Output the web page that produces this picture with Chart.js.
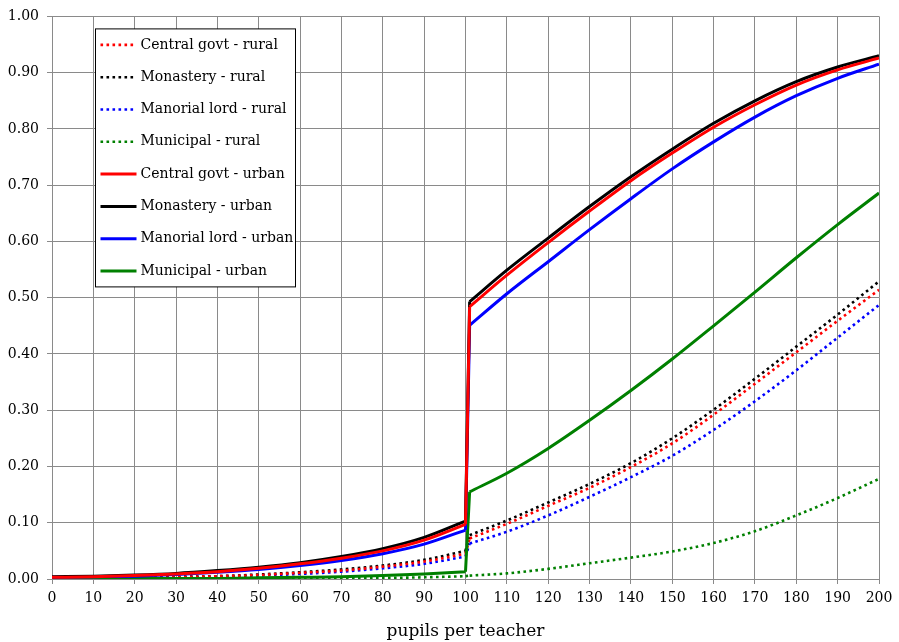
<!DOCTYPE html>
<html>
<head>
<meta charset="utf-8">
<script src="https://cdn.jsdelivr.net/npm/chart.js@4/dist/chart.umd.min.js"></script>
<style>
  html, body { margin: 0; padding: 0; background: #fff; }
  #wrap { width: 899px; height: 642px; }
</style>
</head>
<body>
<div id="wrap"><canvas id="chart" width="899" height="642"></canvas></div>
<script>
// x positions (pupils per teacher) where values were read; curves jump between 100 and 101
const pupils = [0, 10, 20, 30, 40, 50, 60, 70, 80, 90, 100, 101,
                110, 120, 130, 140, 150, 160, 170, 180, 190, 200];
const jumpAfter = 100;

const centralRural   = [0.001, 0.001, 0.002, 0.003, 0.005, 0.007, 0.011, 0.015, 0.022, 0.031, 0.045, 0.072,
                        0.098, 0.130, 0.162, 0.199, 0.241, 0.292, 0.347, 0.403, 0.459, 0.514];
const monasteryRural = [0.001, 0.001, 0.002, 0.004, 0.005, 0.008, 0.012, 0.017, 0.024, 0.034, 0.050, 0.078,
                        0.104, 0.136, 0.169, 0.206, 0.250, 0.301, 0.356, 0.413, 0.470, 0.529];
const manorialRural  = [0.001, 0.001, 0.002, 0.003, 0.004, 0.006, 0.009, 0.013, 0.019, 0.027, 0.040, 0.063,
                        0.084, 0.113, 0.146, 0.181, 0.219, 0.265, 0.316, 0.371, 0.429, 0.487];
const municipalRural = [0.000, 0.000, 0.000, 0.000, 0.000, 0.001, 0.001, 0.002, 0.002, 0.003, 0.005, 0.006,
                        0.010, 0.018, 0.028, 0.038, 0.049, 0.064, 0.085, 0.113, 0.144, 0.178];

const centralUrban   = [0.003, 0.004, 0.006, 0.009, 0.013, 0.019, 0.027, 0.037, 0.050, 0.069, 0.097, 0.484,
                        0.540, 0.598, 0.654, 0.708, 0.757, 0.803, 0.843, 0.878, 0.905, 0.926];
const monasteryUrban = [0.004, 0.005, 0.007, 0.010, 0.015, 0.021, 0.029, 0.040, 0.054, 0.074, 0.103, 0.493,
                        0.549, 0.606, 0.662, 0.715, 0.764, 0.810, 0.850, 0.884, 0.910, 0.930];
const manorialUrban  = [0.003, 0.004, 0.005, 0.008, 0.012, 0.017, 0.024, 0.033, 0.045, 0.062, 0.087, 0.451,
                        0.507, 0.564, 0.621, 0.676, 0.729, 0.777, 0.821, 0.859, 0.890, 0.915];
const municipalUrban = [0.000, 0.000, 0.001, 0.001, 0.001, 0.002, 0.003, 0.004, 0.006, 0.009, 0.013, 0.155,
                        0.188, 0.232, 0.282, 0.335, 0.391, 0.450, 0.510, 0.571, 0.630, 0.686];

const seriesLabels = [
  'Central govt - rural', 'Monastery - rural', 'Manorial lord - rural', 'Municipal - rural',
  'Central govt - urban', 'Monastery - urban', 'Manorial lord - urban', 'Municipal - urban'
];
const seriesValues = [
  centralRural, monasteryRural, manorialRural, municipalRural,
  centralUrban, monasteryUrban, manorialUrban, municipalUrban
];

const xTicks = [0, 200, 10];     // min, max, step
const yTicks = [0, 1, 0.1];

const FONT = "'DejaVu Serif', serif";
const GRID = '#8a8a8a';
const COLORS = ['#ff0000', '#000000', '#0000ff', '#008000'];

// split at the jump (null markers) so the smooth curve doesn't bend around the step
function buildPoints(ys) {
  const pts = [];
  const j = pupils.indexOf(jumpAfter);
  pupils.forEach((x, k) => {
    pts.push({ x, y: ys[k] });
    if (k === j) {
      pts.push({ x, y: null });
      pts.push({ x, y: ys[k] });
    }
    if (k === j + 1) {
      pts.push({ x, y: null });
      pts.push({ x, y: ys[k] });
    }
  });
  return pts;
}

const datasets = seriesLabels.map((label, i) => {
  const rural = i < 4;
  return {
    label,
    data: buildPoints(seriesValues[i]),
    borderColor: COLORS[i % 4],
    backgroundColor: COLORS[i % 4],
    borderWidth: rural ? 2.6 : 3,
    borderDash: rural ? [2.6, 3.4] : [],
    borderJoinStyle: 'round',
    pointRadius: 0,
    fill: false,
    cubicInterpolationMode: 'monotone',
    spanGaps: false,
    order: rural ? 2 : 1,
  };
});

// legend drawn as a framed box inside the plot area
const boxLegend = {
  id: 'boxLegend',
  afterDatasetsDraw(chart) {
    const { ctx, chartArea } = chart;
    const left = chartArea.left + 43.5, top = chartArea.top + 12.5;
    const w = 200, h = 258, rowH = 32.3;
    ctx.save();
    ctx.fillStyle = '#fff';
    ctx.fillRect(left, top, w, h);
    ctx.strokeStyle = '#000';
    ctx.lineWidth = 1;
    ctx.strokeRect(left, top, w, h);
    ctx.font = '14px ' + FONT;
    ctx.textBaseline = 'middle';
    chart.data.datasets.forEach((ds, i) => {
      const y = top + 16 + i * rowH;
      ctx.beginPath();
      ctx.strokeStyle = ds.borderColor;
      ctx.lineWidth = ds.borderWidth;
      ctx.setLineDash(ds.borderDash);
      ctx.moveTo(left + 5, y);
      ctx.lineTo(left + 41, y);
      ctx.stroke();
      ctx.setLineDash([]);
      ctx.fillStyle = '#000';
      ctx.fillText(ds.label, left + 45, y);
    });
    ctx.restore();
  }
};

new Chart(document.getElementById('chart'), {
  type: 'line',
  data: { datasets },
  plugins: [boxLegend],
  options: {
    responsive: false,
    animation: false,
    layout: { padding: { top: 12, right: 20, left: 0, bottom: 0 } },
    plugins: {
      legend: { display: false },
      tooltip: { enabled: false },
    },
    scales: {
      x: {
        type: 'linear',
        min: xTicks[0], max: xTicks[1],
        ticks: {
          stepSize: xTicks[2],
          font: { family: FONT, size: 14 },
          color: '#000',
          padding: 6,
          maxRotation: 0,
        },
        grid: { color: GRID, tickLength: 5, tickColor: GRID },
        border: { color: GRID },
        title: {
          display: true,
          text: 'pupils per teacher',
          font: { family: FONT, size: 17 },
          color: '#000',
          padding: { top: 4, bottom: 0 },
        },
        afterFit(scale) { scale.height = 63; },
      },
      y: {
        min: yTicks[0], max: yTicks[1],
        ticks: {
          stepSize: yTicks[2],
          font: { family: FONT, size: 14 },
          color: '#000',
          padding: 8,
          callback: v => v.toFixed(2),
        },
        grid: { color: GRID, tickLength: 5, tickColor: GRID },
        border: { color: GRID },
        afterFit(scale) { scale.width = 52; },
      },
    },
  },
});
</script>
</body>
</html>
